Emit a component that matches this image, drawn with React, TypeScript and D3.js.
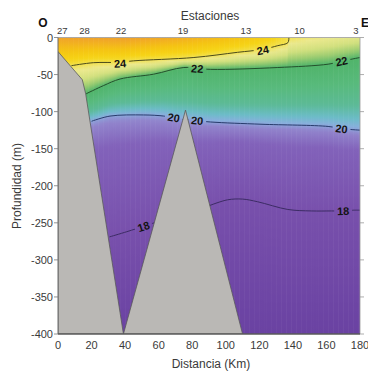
import React from 'react';
import * as d3 from 'd3';

const W = 368, H = 372;
const xTicks = [0, 20, 40, 60, 80, 100, 120, 140, 160, 180];
const yTicks = [0, -50, -100, -150, -200, -250, -300, -350, -400];
const stationNames = ['27', '28', '22', '19', '13', '10', '3'];
const stationKm = [2.5, 15.8, 37.5, 74.5, 112, 144, 177.6];

// seabed profile [km, depth]
const bathymetry: [number, number][] = [[0, -19], [14.5, -57], [16.5, -76], [39, -400], [76, -98], [110, -400]];

// surface temperature along the section
const surfaceTemp: [number, number][] = [[0, 25.9], [40, 26], [70, 25.7], [100, 25.2], [125, 24.6], [137.6, 24], [160, 23.6], [180, 23.3]];

// isotherms [km, depth]
const iso24: [number, number][] = [[8, -38], [21, -34], [37, -33.5], [45, -31.5], [81, -27], [107, -20], [122, -16], [131, -11], [137, -7], [137.6, 0]];
const iso22: [number, number][] = [[16.7, -76], [27, -65], [37, -56], [57, -49.5], [75, -40.5], [91, -43], [131, -40.5], [161, -36], [169, -32], [180, -27]];
const iso20: [number, number][] = [[20, -113], [31, -106], [51, -104.5], [63, -106], [72, -110], [77, -111], [91, -114], [121, -117], [161, -120], [169, -123], [180, -125]];
const iso18West: [number, number][] = [[30.7, -269], [41, -262], [52, -254], [57.4, -250]];
const iso18East: [number, number][] = [[90, -227], [101, -219], [110, -218], [119, -221.6], [137, -232], [151, -234], [163, -234], [170, -234], [176, -233], [180, -233]];

const contourLabels = [
  { v: '24', line: 'iso24', km: 37, d: -35 },
  { v: '24', line: 'iso24', km: 122, d: -17 },
  { v: '22', line: 'iso22', km: 83, d: -42 },
  { v: '22', line: 'iso22', km: 169, d: -32 },
  { v: '20', line: 'iso20', km: 69, d: -108 },
  { v: '20', line: 'iso20', km: 83, d: -112 },
  { v: '20', line: 'iso20', km: 169, d: -123 },
  { v: '18', line: 'iso18West', km: 51, d: -255 },
  { v: '18', line: 'iso18East', km: 170, d: -234 },
];

const tempValues = [16.5, 18, 19.5, 19.9, 20.05, 20.3, 20.7, 21.3, 22.0, 22.5, 23.0, 23.6, 24.0, 24.4, 25.0, 25.6, 26.0];
const tempColors = ['#6a42a2', '#7850ac', '#8262ba', '#9184cc', '#8aaede', '#6cbcc8', '#5cba96', '#58ba7c', '#50b46a', '#9ccc70', '#d2e07e', '#ece98e', '#f2e04c', '#f6d416', '#f5c412', '#f2ae22', '#ee9e2c'];

const lines: Record<string, [number, number][]> = { iso24, iso22, iso20, iso18West, iso18East };
const lineColors: Record<string, string> = { iso24: '#4a4a1a', iso22: '#24502c', iso20: '#283c6c', iso18West: '#3c2c64', iso18East: '#3c2c64' };

function at(pts: [number, number][], km: number): number {
  if (km <= pts[0][0]) return pts[0][1];
  for (let i = 1; i < pts.length; i++) {
    if (km <= pts[i][0]) {
      const [x0, y0] = pts[i - 1], [x1, y1] = pts[i];
      return y0 + ((km - x0) / (x1 - x0)) * (y1 - y0);
    }
  }
  return pts[pts.length - 1][1];
}

export default function App() {
  const x = d3.scaleLinear().domain([0, 180]).range([58, 360]);
  const y = d3.scaleLinear().domain([0, -400]).range([37.5, 334]);
  const color = d3.scaleLinear<string>().domain(tempValues).range(tempColors).interpolate(d3.interpolateRgb).clamp(true);
  const font = '"Liberation Sans", Arial, sans-serif';

  const iso18All = [...iso18West, ...iso18East];
  const step = 1;
  const columns: { km: number; stops: { o: number; c: string }[] }[] = [];
  for (let km = 0; km < 180; km += step) {
    const c = km + step / 2;
    const ts = at(surfaceTemp, c);
    const anchors: [number, number][] = [[0, ts]];
    if (c < 137.6 && ts > 24) anchors.push([at(iso24, c), 24]);
    anchors.push([at(iso22, c), 22]);
    anchors.push([at(iso20, c), 20]);
    anchors.push([at(iso18All, c), 18]);
    anchors.push([-400, 16.5]);
    const prof = d3.scaleLinear().domain(anchors.map(a => a[0])).range(anchors.map(a => a[1])).clamp(true);
    const stops = [];
    for (let d = 0; d >= -400; d -= 4) {
      stops.push({ o: -d / 400, c: color(prof(d)) });
    }
    columns.push({ km, stops });
  }

  const lineGen = d3.line<[number, number]>().x(p => x(p[0])).y(p => y(p[1])).curve(d3.curveCatmullRom.alpha(0.5));

  const labelGeo = contourLabels.map(l => {
    const pts = lines[l.line];
    const a = x(l.km - 4), b = x(l.km + 4);
    const ya = y(at(pts, l.km - 4)), yb = y(at(pts, l.km + 4));
    const ang = (Math.atan2(yb - ya, b - a) * 180) / Math.PI;
    return { ...l, px: x(l.km), py: y(l.d), ang };
  });

  const bathPts = [...bathymetry, [110, -400], [0, -400]] as [number, number][];
  const bathPath = 'M' + bathPts.map(p => `${x(p[0])},${y(p[1])}`).join('L') + 'Z';

  return (
    <svg width={W} height={H} style={{ position: 'absolute', left: 0, top: 0, background: '#fff' }}>
      <defs>
        {columns.map((col, i) => (
          <linearGradient key={i} id={`g${i}`} gradientUnits="userSpaceOnUse" x1={0} y1={y(0)} x2={0} y2={y(-400)}>
            {col.stops.map((s, j) => <stop key={j} offset={s.o} stopColor={s.c} />)}
          </linearGradient>
        ))}
        <mask id="lblmask" maskUnits="userSpaceOnUse" x={0} y={0} width={W} height={H}>
          <rect x={0} y={0} width={W} height={H} fill="#fff" />
          {labelGeo.map((l, i) => (
            <rect key={i} x={-9} y={-6} width={18} height={12} fill="#000" transform={`translate(${l.px},${l.py}) rotate(${l.ang})`} />
          ))}
        </mask>
        <clipPath id="plotclip">
          <rect x={x(0)} y={y(0)} width={x(180) - x(0)} height={y(-400) - y(0)} />
        </clipPath>
      </defs>

      <g clipPath="url(#plotclip)">
        {columns.map((col, i) => (
          <rect key={i} x={x(col.km)} y={y(0)} width={x(col.km + step) - x(col.km) + 0.6} height={y(-400) - y(0)} fill={`url(#g${i})`} />
        ))}
        <g mask="url(#lblmask)">
          {Object.keys(lines).map(k => (
            <path key={k} d={lineGen(lines[k]) || ''} fill="none" stroke={lineColors[k]} strokeWidth={1} />
          ))}
        </g>
        <path d={bathPath} fill="#bab8b5" stroke="#5a5a5a" strokeWidth={0.8} />
      </g>

      {labelGeo.map((l, i) => (
        <text key={i} transform={`translate(${l.px},${l.py}) rotate(${l.ang})`} textAnchor="middle" dominantBaseline="central"
          fontFamily={font} fontSize={11} fontWeight="bold" fill="#141414">{l.v}</text>
      ))}

      {/* frame */}
      <line x1={x(0)} x2={x(180)} y1={y(0)} y2={y(0)} stroke="#9a9a9a" strokeWidth={0.8} />
      <line x1={x(180)} x2={x(180)} y1={y(0)} y2={y(-400)} stroke="#9a9a9a" strokeWidth={0.8} />
      <line x1={x(0)} x2={x(0)} y1={y(0)} y2={y(-400)} stroke="#6a6a6a" strokeWidth={1} />
      <line x1={x(0)} x2={x(180)} y1={y(-400)} y2={y(-400)} stroke="#5a5a5a" strokeWidth={1.5} />

      {yTicks.map(t => (
        <g key={t}>
          <line x1={x(0) - 4} x2={x(0)} y1={y(t)} y2={y(t)} stroke="#777" strokeWidth={0.8} />
          <line x1={x(180)} x2={x(180) + 4} y1={y(t)} y2={y(t)} stroke="#999" strokeWidth={0.8} />
          <text x={x(0) - 5} y={y(t)} textAnchor="end" dominantBaseline="central" fontFamily={font} fontSize={11} fill="#3a3a3a">{t}</text>
        </g>
      ))}
      {xTicks.map(t => (
        <text key={t} x={x(t)} y={349} textAnchor="middle" fontFamily={font} fontSize={11} fill="#3a3a3a">{t}</text>
      ))}
      {stationNames.map((s, i) => (
        <text key={s} x={x(stationKm[i])} y={34} textAnchor="middle" fontFamily={font} fontSize={9.5} fill="#3a3a3a">{s}</text>
      ))}

      <text x={210} y={20} textAnchor="middle" fontFamily={font} fontSize={12} fill="#3a3a3a">Estaciones</text>
      <text x={211} y={368} textAnchor="middle" fontFamily={font} fontSize={12} fill="#3a3a3a">Distancia (Km)</text>
      <text transform="translate(21,186) rotate(-90)" textAnchor="middle" fontFamily={font} fontSize={12} fill="#3a3a3a">Profundidad (m)</text>
      <text x={43} y={27} textAnchor="middle" fontFamily={font} fontSize={12} fontWeight="bold" fill="#111">O</text>
      <text x={361} y={27} textAnchor="start" fontFamily={font} fontSize={12} fontWeight="bold" fill="#111">E</text>
    </svg>
  );
}
